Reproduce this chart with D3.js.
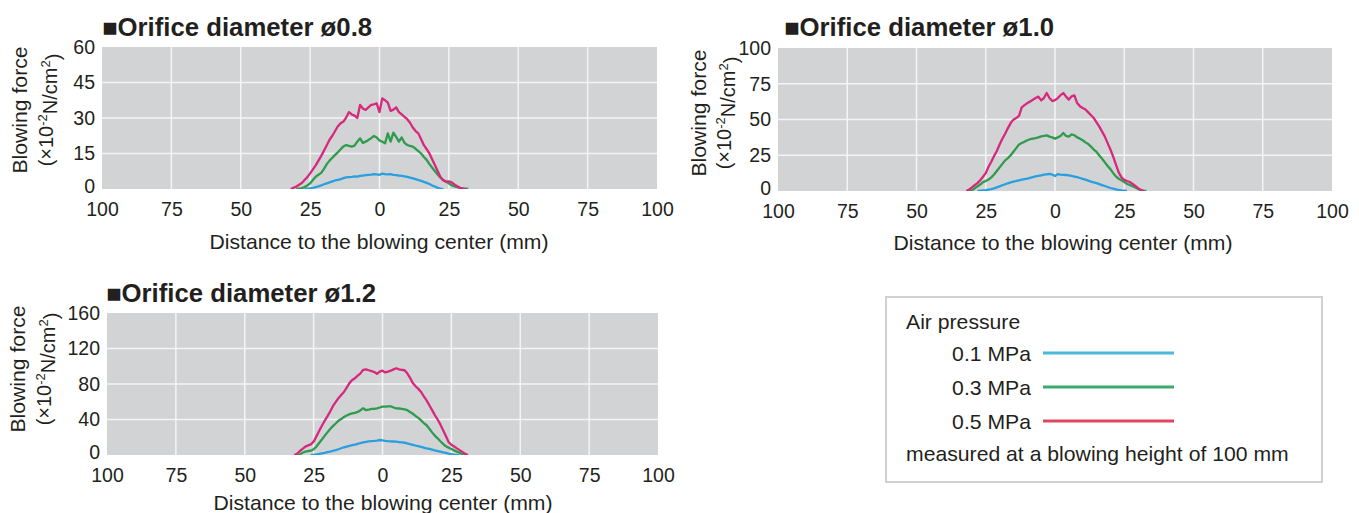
<!DOCTYPE html>
<html><head><meta charset="utf-8">
<script src="https://cdn.jsdelivr.net/npm/d3@7"></script>
<style>
body{margin:0;background:#fff;}
svg{display:block;}
text{font-family:"Liberation Sans",Arial,Helvetica,sans-serif;fill:#231f20;}
</style>
</head><body>
<svg id="c" width="1359" height="513"></svg>
<script>
// ---------- DATA ----------
const distance = [-33,-32,-31,-30,-29,-28,-27,-26,-25,-24,-23,-22,-21,-20,-19,-18,-17,-16,-15,-14,-13,-12,-11,-10,-9,-8,-7,-6,-5,-4,-3,-2,-1,0,1,2,3,4,5,6,7,8,9,10,11,12,13,14,15,16,17,18,19,20,21,22,23,24,25,26,27,28,29,30,31,32,33];
const xTicks = [-100,-75,-50,-25,0,25,50,75,100];
const seriesNames = ["0.1 MPa","0.3 MPa","0.5 MPa"];

// Orifice ø0.8
const yTicks08 = [0,15,30,45,60];
const d08_01 = [0,0,0,0,0,0, 0,0.1,0.3,0.5,0.8,1.1,1.5,2,2.4,2.8, 3.2,3.6,3.9,4.2,4.6,4.9,5,5.1,5.3,5.2, 5.5,5.7,5.9,6,6.1,6.3,6.2,6.0,6.5,6.3, 6.2,6.3,6,5.9,5.7,5.5,5.3,5.1,4.8,4.5, 4.2,3.8,3.4,3,2.6,2.1,1.5,1,0.5,0.2, 0,0,0,0,0,0,0,0,0,0,0];
const d08_03 = [0,0,0,0, 0.2,0.4,0.8,1.5,2.4,3.8,5.2,6,6.8,8.5, 10.5,12,13.2,14.4,15.5,16.8,18,18.6,18.2,17.9, 18.3,20,21.4,19.5,20,20.7,21.5,22.4,21.8,20.5, 20,19.3,23.5,20,23.8,22,20,21.8,19.5,18.6, 18.2,17.9,17,16,15,13.5,12.3,10.5,9,7.5, 6,4.8,3.8,3.1,2.3,1.6,1.1,0.8,0.5,0.3, 0.1,0,0];
const d08_05 = [0,0, 0.5,1,1.8,2.5,3.8,5,6.6,8.3,10,12, 14,16.2,18.5,20.8,22.5,24.5,26.5,27.8,28.5,30.2, 32.5,31.5,31,30,35.5,34,33.4,34.5,35.5,35.8, 36.2,32.5,38.3,37.5,36.5,33,33.5,34.5,32.5,31.5, 30.5,29.5,28,26,24.5,23.5,21,18.5,16.8,15, 12.5,10,7.5,5,3.6,3.1,3.2,2.8,1.9,1.2, 0.5,0.2,0,0,0];

// Orifice ø1.0
const yTicks10 = [0,25,50,75,100];
const d10_01 = [0,0,0,0,0,0, 0.2,0.4,0.6,0.9,1.3,1.8,2.5,3.2,4,4.7, 5.4,6,6.5,7,7.4,7.9,8.3,8.7,9.2,9.7, 10.2,10.6,11,11.4,11.7,11.9,11.5,10.5,11.8,11.5, 11.3,11.2,10.9,10.5,10.1,9.7,9.1,8.5,8,7.3, 6.6,6,5.5,4.8,4.1,3.5,2.8,2.1,1.6,1.1, 0.7,0.4,0.2, 0,0,0,0,0,0,0,0];
const d10_03 = [0,0,0, 0.5,1.8,3.2,4.5,6.2,7,8,9.5,11.5,14, 16.5,19,21.4,23,25,27.5,30,32.5,33.5,34.5, 35.5,36.2,36.6,37,37.5,38.2,38.5,38.9,38,37.5, 36.6,37.5,38.5,40.6,38.5,38,39.6,39,37.5,36.6, 35.5,34,32.8,31,29,27.3,24.8,22.5,20,17.5, 15.3,12.5,10.2,8.5,7.5,6.2,5,4.2,3.4,2.5, 1.4,0.5,0.1,0];
const d10_05 = [0,0, 1,2.5,4,5.5,7.5,10,12.5,17,20.5,24.5, 28,32.5,36.5,40,44,47.5,49.9,51,52.5,58.5, 60,61.5,62.5,63.8,65,66,63.4,65,68.5,65, 62.9,63.5,65,67,68.5,66,63.9,66.2,66.9,61.5, 59.2,58,57,55,53,51,48,45,41.5,38, 33.5,29,24,18.5,13,9.5,7.8,7,6.3,5, 3.5,2,0.8,0,0];

// Orifice ø1.2
const yTicks12 = [0,40,80,120,160];
const d12_01 = [0,0,0,0,0,0,0,0, 0.2,0.6,1.2,1.9,2.5,3.2,3.9,4.8,5.6,6.5, 7.6,8.7,9.5,10.3,11,11.7,12.6,13.5,14.3,14.8, 15.3,15.6,15.9,16.3,16.9,16.5,16,15.6,15.4,15.2, 15,14.6,14.2,13.8,13.2,12.3,11.5,10.7,10,9.2, 8.3,7.5,6.8,6,5.2,4.5,3.8,3,2.3,1.6, 1,0.5,0.2, 0,0,0,0,0,0];
const d12_03 = [0,0,0, 0.8,2.5,3.8,4.5,4.9,6.5,9.5,13.5,17.5,21.5, 25.5,29.3,32.5,35.5,38.5,40.5,42.8,44.5,46,46.8, 47.5,48.5,50.5,52.6,50.5,51,51.9,52,52.6,53.5, 54.5,54.5,54.8,54.9,53.5,52.6,52.4,52,51.5,50.5, 48.5,46.5,44,41.8,39,36,33.5,29.5,25.5,21.8, 18.8,15.5,12.5,9.8,8.3,6.8,5.2,3.8,2.5,0.8, 0,0,0,0];
const d12_05 = [0,0, 1.5,4.5,7,9.5,10.8,12,15,21,27,33, 38.5,43.5,49,55,59.5,64,67.5,71,76,81, 84.5,86.5,89.5,92,96,96.5,95.5,94.5,93.5,91.5, 94,95,93,94,95,96.5,97.7,96.5,96,95.5, 92,87,81,77.5,74.5,71,66,61.5,56,50.5, 45,40,34.5,28,21.5,14.5,11.5,9.5,7.5,5.5, 3.5,1.5,0,0,0];

// ---------- STYLE / LAYOUT ----------
const lineColors = ["#2a9fdf","#2f9b4d","#d7287d"];
const legendColors = ["#4bb9d9","#3bab6c","#e0465f"];
const SX = 1.06;

const charts = [
  {title:"■Orifice diameter ø0.8", x0:102, x1:657, y0:47, y1:189, yMax:60, yTicks:yTicks08,
   series:[d08_01,d08_03,d08_05], yt1:27, yt2:53, ytc:110, xtx:379, xty:249, tx:102, ty:36},
  {title:"■Orifice diameter ø1.0", x0:778, x1:1332, y0:48, y1:191, yMax:100, yTicks:yTicks10,
   series:[d10_01,d10_03,d10_05], yt1:706, yt2:731, ytc:113, xtx:1063, xty:250, tx:784, ty:36},
  {title:"■Orifice diameter ø1.2", x0:107, x1:658, y0:313, y1:455, yMax:160, yTicks:yTicks12,
   series:[d12_01,d12_03,d12_05], yt1:25, yt2:51, ytc:369, xtx:383, xty:510, tx:106, ty:302}
];

const svg = d3.select("#c");

function stretchText(g, str, x, y, opts={}) {
  const t = g.append("text")
    .attr("transform", `translate(${x},${y}) rotate(${opts.rot||0}) scale(${opts.sx||SX},1)`)
    .attr("text-anchor", opts.anchor||"start")
    .style("font-size", (opts.size||20)+"px")
    .style("font-weight", opts.weight||"normal");
  if (str !== null) t.text(str);
  return t;
}

charts.forEach((c, ci) => {
  const g = svg.append("g");
  const x = d3.scaleLinear().domain([-100,100]).range([c.x0,c.x1]);
  const y = d3.scaleLinear().domain([0,c.yMax]).range([c.y1,c.y0]);

  g.append("rect").attr("x",c.x0).attr("y",c.y0).attr("width",c.x1-c.x0).attr("height",c.y1-c.y0)
    .attr("fill","#d1d3d4");

  // grid
  g.append("g").selectAll("line").data(xTicks.slice(1,-1)).join("line")
    .attr("x1",d=>x(d)).attr("x2",d=>x(d)).attr("y1",c.y0).attr("y2",c.y1)
    .attr("stroke","#f4f4f4").attr("stroke-width",1.5);
  g.append("g").selectAll("line").data(c.yTicks.slice(1,-1)).join("line")
    .attr("x1",c.x0).attr("x2",c.x1).attr("y1",d=>y(d)).attr("y2",d=>y(d))
    .attr("stroke","#f4f4f4").attr("stroke-width",1.5);

  // axes
  const xa = g.append("g").attr("transform",`translate(0,${c.y1})`)
    .call(d3.axisBottom(x).tickValues(xTicks).tickSize(0).tickPadding(13).tickFormat(d=>Math.abs(d)));
  const ya = g.append("g").attr("transform",`translate(${c.x0},0)`)
    .call(d3.axisLeft(y).tickValues(c.yTicks).tickSize(0).tickPadding(7));
  [xa,ya].forEach(a=>{
    a.select(".domain").remove();
    a.selectAll("text").style("font-size","19.5px").style("font-family",'"Liberation Sans",Arial,sans-serif')
      .attr("fill","#231f20");
  });
  ya.selectAll(".tick text").filter(d=>d===0).attr("dy","0.19em");

  // clip
  const cid = "clip"+ci;
  g.append("clipPath").attr("id",cid).append("rect")
    .attr("x",c.x0).attr("y",c.y0-5).attr("width",c.x1-c.x0).attr("height",c.y1-c.y0+5);

  const line = d3.line().x(d=>x(d[0])).y(d=>y(d[1]));
  c.series.forEach((vals, si) => {
    let first = vals.findIndex(v=>v>0), last = vals.length-1;
    while (last>0 && !(vals[last]>0)) last--;
    const s = Math.max(0,first-1), e = Math.min(vals.length-1,last+1);
    const pts = [];
    for (let i=s;i<=e;i++) pts.push([distance[i], vals[i]]);
    g.append("path").datum(pts).attr("d",line)
      .attr("fill","none").attr("stroke",lineColors[si]).attr("stroke-width",2.3)
      .attr("stroke-linejoin","round").attr("clip-path",`url(#${cid})`);
  });

  // titles
  stretchText(g, c.title, c.tx, c.ty, {size:25, weight:"bold", sx:1.03});
  stretchText(g, "Blowing force", c.yt1, c.ytc, {rot:-90, anchor:"middle"});
  const t2 = stretchText(g, null, c.yt2, c.ytc, {rot:-90, anchor:"middle", sx:1.0});
  t2.append("tspan").text("(×10");
  t2.append("tspan").text("-2").style("font-size","13px").attr("dy","-0.5em");
  t2.append("tspan").text("N/cm").attr("dy","0.5em");
  t2.append("tspan").text("2").style("font-size","13px").attr("dy","-0.5em");
  t2.append("tspan").text(")").attr("dy","0.5em");
  stretchText(g, "Distance to the blowing center (mm)", c.xtx, c.xty, {anchor:"middle"});
});

// legend
const lg = svg.append("g");
lg.append("rect").attr("x",886).attr("y",297).attr("width",436).attr("height",185)
  .attr("fill","#fff").attr("stroke","#cfd0d1").attr("stroke-width",2);
stretchText(lg, "Air pressure", 906, 329);
const legendY = d3.scalePoint().domain(seriesNames).range([353,421]);
seriesNames.forEach((n,i)=>{
  stretchText(lg, n, 1031, legendY(n)+8, {anchor:"end"});
  lg.append("line").attr("x1",1043).attr("x2",1174).attr("y1",legendY(n)).attr("y2",legendY(n))
    .attr("stroke",legendColors[i]).attr("stroke-width",3);
});
stretchText(lg, "measured at a blowing height of 100 mm", 906, 461);
</script>
</body></html>
